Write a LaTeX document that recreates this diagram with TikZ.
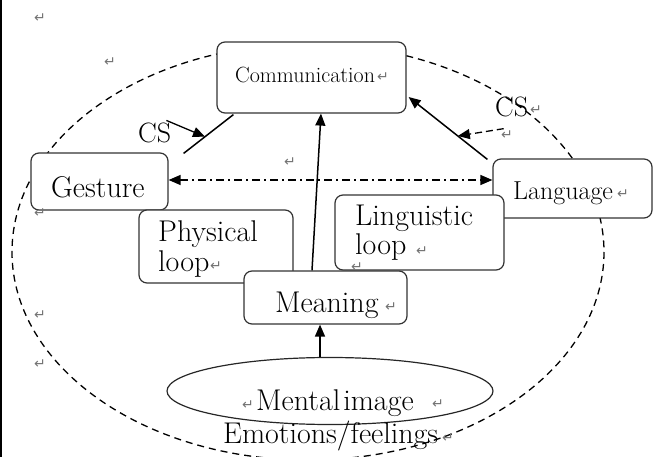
\documentclass[tikz,border=0pt]{standalone}
\usepackage{fontspec}
\newfontfamily\djv{DejaVu Sans}
\usetikzlibrary{arrows.meta,calc,shapes.geometric}
\begin{document}
\begin{tikzpicture}[x=1pt,y=-1pt,
  box/.style={draw=black!80,line width=1.2pt,rounded corners=8pt,fill=white,inner sep=0pt},
  txt/.style={inner sep=0pt,anchor=base west,font=\fontsize{30}{32}\selectfont},
  arr/.style={line width=1.5pt,-{Triangle[length=12pt,width=10pt]}},
  ret/.style={inner sep=0pt,text=black!55,font=\djv\fontsize{14}{14}\selectfont},
  dashring/.style={dash pattern=on 7pt off 5pt,line width=1.3pt}]
\useasboundingbox (0,0) rectangle (654,457);
\fill[black] (0,0) rectangle (2,457);
% dashed outer ellipse
\begin{scope}
\clip (2,0) rectangle (654,457);
\draw[dashring] (308,252) ellipse [x radius=296, y radius=208];
\end{scope}
% boxes
\node[box,minimum width=189pt,minimum height=71pt] (comm) at (311.5,77.5) {};
\node[box,minimum width=137pt,minimum height=57pt] (ges) at (99.5,181.5) {};
\node[box,minimum width=159pt,minimum height=59pt] (lang) at (572.5,188.5) {};
\node[box,minimum width=154pt,minimum height=73pt] (phys) at (216,246.5) {};
\node[box,minimum width=169pt,minimum height=75pt] (ling) at (419.5,232.5) {};
\node[box,minimum width=163pt,minimum height=53pt] (mean) at (325.5,297.5) {};
\node[draw=black!85,line width=1.2pt,ellipse,fill=white,minimum width=326pt,minimum height=67pt,inner sep=0pt] (img) at (330,391) {};
% texts
\node[txt,font=\fontsize{22}{24}\selectfont] (tcomm) at (235,83) {Communication};
\node[txt] (tges) at (51,198) {Gesture};
\node[txt,font=\fontsize{26}{28}\selectfont] (tlang) at (513,200) {Language};
\node[txt] (tphys1) at (158,242) {Physical};
\node[txt] (tphys2) at (158,272) {loop};
\node[txt] (tling1) at (355,226) {Linguistic};
\node[txt] (tling2) at (355,255) {loop};
\node[txt] (tmean) at (275,313) {Meaning};
\node[txt] (timg) at (256,410) {\addfontfeature{LetterSpace=5}Mental\hspace{3pt}image};
\node[txt] (temo) at (223,443) {Emotions/feelings};
\node[txt,font=\fontsize{28}{30}\selectfont] (csl) at (138,143) {CS};
\node[txt,font=\fontsize{28}{30}\selectfont] (csr) at (495,117) {CS};
% connectors
\draw[arr] ($(mean.north)+(-13.5,0)$) -- ($(comm.south)+(9.5,0)$);
\draw[arr] ($(img.north)+(-10,0)$) -- ($(mean.south)+(-5.5,0)$);
\draw[line width=1.3pt,dash pattern=on 8pt off 4pt on 2pt off 4pt,{Triangle[length=12pt,width=10pt]}-{Triangle[length=12pt,width=10pt]}]
  ($(ges.east)+(0,-1.5)$) -- ($(lang.west)+(0,-8.5)$);
\coordinate (gA) at ($(ges.north east)+(15,1)$);
\coordinate (gB) at ($(comm.south west)+(17,1)$);
\draw[line width=1.5pt] (gA) -- (gB);
\coordinate (gM) at ($(gA)!0.43!(gB)$);
\draw[line width=1.3pt,-{Triangle[length=12pt,width=10pt]}] ($(csl.east)+(-5,-13)$) -- (gM);
\coordinate (lA) at ($(lang.north west)+(-5,1)$);
\coordinate (lB) at ($(comm.east)+(2,19.5)$);
\draw[arr] (lA) -- (lB);
\coordinate (lM) at ($(lA)!0.375!(lB)$);
\draw[line width=1.3pt,dash pattern=on 7pt off 4pt,-{Triangle[length=12pt,width=10pt]}] ($(csr.south)+(-8,11)$) -- (lM);
% paragraph marks
\foreach \p in {(40,18),(110,62),(290,162),(40,213),(40,315),(40,364),(383,77),(536,110),(507,135),(623,194),(216,266),(422,251),(357,267),(391,307),(248,405),(438,404),(448,438)}
  \node[ret] at \p {↵};
\end{tikzpicture}
\end{document}
